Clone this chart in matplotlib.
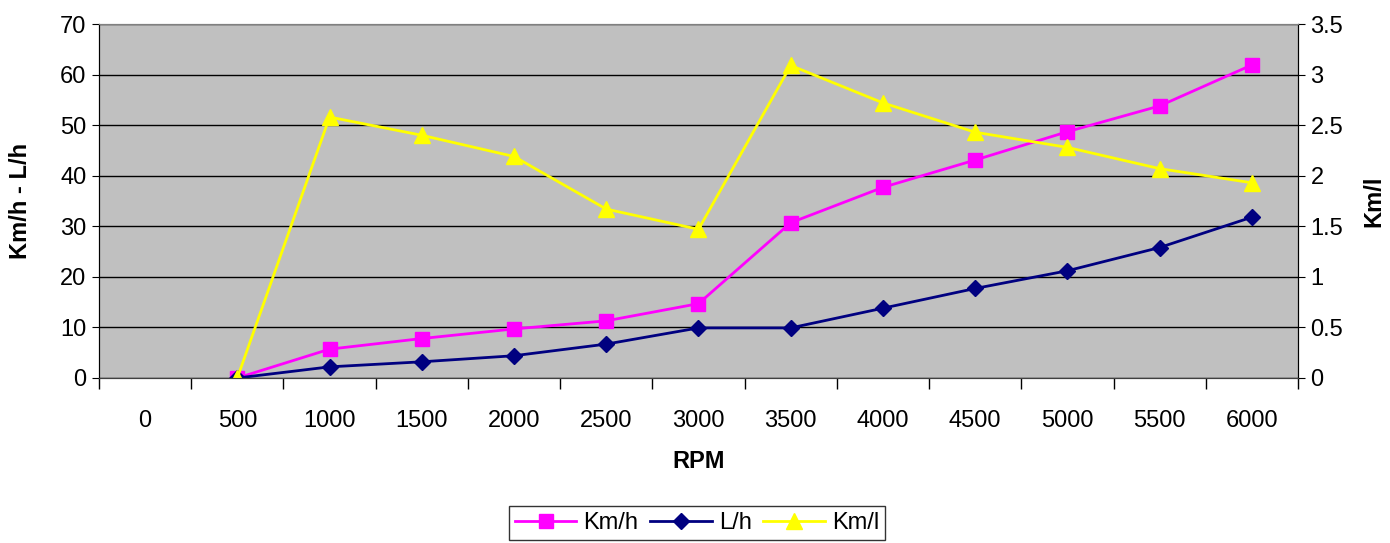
import numpy as np
import matplotlib
matplotlib.use('Agg')
import matplotlib.pyplot as plt

plt.rcParams['font.family'] = ['Liberation Sans', 'DejaVu Sans']

# dati
rpm = ['0', '500', '1000', '1500', '2000', '2500', '3000', '3500', '4000', '4500', '5000', '5500', '6000']
km_h = [None, 0, 5.7, 7.8, 9.7, 11.3, 14.7, 30.7, 37.7, 43.1, 48.7, 53.8, 61.9]
l_h = [None, 0, 2.2, 3.2, 4.4, 6.7, 9.9, 9.9, 13.8, 17.7, 21.2, 25.8, 31.8]
km_l = [None, 0, 2.58, 2.40, 2.19, 1.67, 1.47, 3.09, 2.72, 2.43, 2.28, 2.07, 1.93]

x = np.arange(len(rpm))
def serie(v):
    return np.array([np.nan if a is None else a for a in v], dtype=float)

fs = 17
fig = plt.figure(figsize=(13.9, 5.43), dpi=100)
ax = fig.add_axes([0.0712, 0.3039, 0.8626, 0.6519])
ax.set_facecolor('#C0C0C0')
ax2 = ax.twinx()

l1, = ax.plot(x, serie(km_h), color='#FF00FF', lw=2, marker='s', ms=10, label='Km/h')
l2, = ax.plot(x, serie(l_h), color='#000080', lw=2, marker='D', ms=8, label='L/h')
l3, = ax2.plot(x, serie(km_l), color='#FFFF00', lw=2, marker='^', ms=11, label='Km/l')

ax.set_xlim(-0.5, len(rpm) - 0.5)
ax.set_ylim(0, 70)
ax2.set_ylim(0, 3.5)
ax.set_yticks(np.arange(0, 71, 10))
ax2.set_yticks(np.arange(0, 3.51, 0.5))
ax2.set_yticklabels(['0', '0.5', '1', '1.5', '2', '2.5', '3', '3.5'])
ax.set_xticks(x)
ax.set_xticklabels(rpm)
ax.set_xticks(np.arange(-0.5, len(rpm)), minor=True)
ax.tick_params(axis='x', which='major', length=0, pad=23, labelsize=fs)
ax.tick_params(axis='x', which='minor', length=8, width=1, direction='out')
ax.tick_params(axis='y', length=5, labelsize=fs, pad=4)
ax2.tick_params(axis='y', length=5, labelsize=fs, pad=4)

ax.grid(axis='y', color='black', lw=1)
ax.set_axisbelow(True)
for a in (ax, ax2):
    a.spines['top'].set_color('#808080')
    a.spines['left'].set_color('black')
    a.spines['right'].set_color('black')
    a.spines['bottom'].set_color('#404040')

ax.set_ylabel('Km/h - L/h', fontsize=fs, fontweight='bold', labelpad=20)
ax2.set_ylabel('Km/l', fontsize=fs, fontweight='bold', labelpad=14)
ax.set_xlabel('RPM', fontsize=fs, fontweight='bold', labelpad=13)

leg = fig.legend(handles=[l1, l2, l3], loc='upper center', bbox_to_anchor=(0.5015, 0.068),
                 ncol=3, fontsize=fs, frameon=True, fancybox=False, handlelength=2.6,
                 columnspacing=0.5, handletextpad=0.3, borderpad=0.25, borderaxespad=0)
leg.get_frame().set_edgecolor('black')
leg.get_frame().set_linewidth(1)

fig.savefig('out.png', dpi=100)
